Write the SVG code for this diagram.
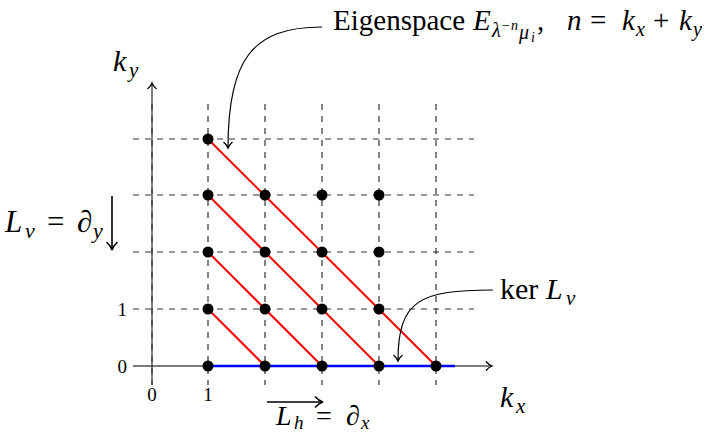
<svg xmlns="http://www.w3.org/2000/svg" width="708" height="435" viewBox="0 0 708 435">
<style>
.grid-h{stroke:#777;stroke-width:1.4;stroke-dasharray:6,6;fill:none}
.grid-v{stroke:#333;stroke-width:1.2;stroke-dasharray:6,6;fill:none}
.axis{stroke:#000;stroke-width:1;fill:none}
.red{stroke:#ff0000;stroke-width:2;fill:none}
.blue{stroke:#0000ff;stroke-width:2.4;fill:none}
.dot{fill:#000}
text,tspan{font-family:'Liberation Serif','Times New Roman','DejaVu Serif',serif}
.txt{fill:#000;font-style:normal}
.m{font-style:italic;fill:#000}
.curve{stroke:#000;stroke-width:1.2;fill:none}
.arr{stroke:#000;stroke-width:1.6;fill:none}
</style>
<defs>
<marker id="tip" markerWidth="12" markerHeight="12" refX="9" refY="6" orient="auto" markerUnits="userSpaceOnUse">
<path d="M3,1.5 Q6,5 9,6 Q6,7 3,10.5" fill="none" stroke="#000" stroke-width="1.3"/>
</marker>
<marker id="tipb" markerWidth="16" markerHeight="16" refX="12" refY="8" orient="auto" markerUnits="userSpaceOnUse">
<path d="M4,2.5 Q8,7 12,8 Q8,9 4,13.5" fill="none" stroke="#000" stroke-width="1.6"/>
</marker>
</defs>
<g id="grid">
<line class="grid-h" x1="133" y1="139" x2="474" y2="139"/>
<line class="grid-h" x1="133" y1="195" x2="474" y2="195"/>
<line class="grid-h" x1="133" y1="252" x2="474" y2="252"/>
<line class="grid-h" x1="133" y1="309" x2="474" y2="309"/>
<line class="grid-v" x1="208" y1="104" x2="208" y2="385"/>
<line class="grid-v" x1="265" y1="104" x2="265" y2="385"/>
<line class="grid-v" x1="322" y1="104" x2="322" y2="385"/>
<line class="grid-v" x1="379" y1="104" x2="379" y2="385"/>
<line class="grid-v" x1="436" y1="104" x2="436" y2="385"/>
</g>
<g id="axes">
<line class="axis" x1="133" y1="366" x2="492" y2="366" marker-end="url(#tip)"/>
<line class="axis" x1="152" y1="385" x2="152" y2="83" marker-end="url(#tip)"/>
<line class="grid-h" x1="133" y1="366" x2="474" y2="366"/>
<line class="grid-v" x1="152" y1="104" x2="152" y2="385"/>
</g>
<g id="connectors">
<line class="red" x1="208" y1="139" x2="436" y2="366"/>
<line class="red" x1="208" y1="195" x2="379" y2="366"/>
<line class="red" x1="208" y1="252" x2="322" y2="366"/>
<line class="red" x1="208" y1="309" x2="265" y2="366"/>
<line class="blue" x1="208" y1="366" x2="455" y2="366"/>
<path class="curve" d="M322,27 C252,27 228,60 228,148" marker-end="url(#tip)"/>
<path class="curve" d="M493,290 C420,290 398,300 398,361" marker-end="url(#tip)"/>
<line class="arr" x1="112" y1="196" x2="112" y2="250" marker-end="url(#tipb)"/>
<line class="arr" x1="267" y1="402" x2="323" y2="402" marker-end="url(#tipb)"/>
</g>
<g id="dots">
<circle class="dot" cx="208" cy="139" r="5.5"/>
<circle class="dot" cx="208" cy="195" r="5.5"/><circle class="dot" cx="265" cy="195" r="5.5"/><circle class="dot" cx="322" cy="195" r="5.5"/><circle class="dot" cx="379" cy="195" r="5.5"/>
<circle class="dot" cx="208" cy="252" r="5.5"/><circle class="dot" cx="265" cy="252" r="5.5"/><circle class="dot" cx="322" cy="252" r="5.5"/><circle class="dot" cx="379" cy="252" r="5.5"/>
<circle class="dot" cx="208" cy="309" r="5.5"/><circle class="dot" cx="265" cy="309" r="5.5"/><circle class="dot" cx="322" cy="309" r="5.5"/><circle class="dot" cx="379" cy="309" r="5.5"/>
<circle class="dot" cx="208" cy="366" r="5.5"/><circle class="dot" cx="265" cy="366" r="5.5"/><circle class="dot" cx="322" cy="366" r="5.5"/><circle class="dot" cx="379" cy="366" r="5.5"/><circle class="dot" cx="436" cy="366" r="5.5"/>
</g>
<g id="ticks">
<text class="txt" x="127" y="373" font-size="19" text-anchor="end">0</text>
<text class="txt" x="127" y="316" font-size="19" text-anchor="end">1</text>
<text class="txt" x="152" y="401" font-size="19" text-anchor="middle">0</text>
<text class="txt" x="208" y="401" font-size="19" text-anchor="middle">1</text>
</g>
<g id="labels">
<text class="m" x="113" y="71" font-size="30">k</text>
<text class="m" x="129" y="77" font-size="21">y</text>
<text class="m" x="500" y="407" font-size="30">k</text>
<text class="m" x="516" y="413" font-size="21">x</text>
<text class="m" x="5" y="232" font-size="31">L</text>
<text class="m" x="25" y="238" font-size="22">v</text>
<text class="txt" x="47" y="232" font-size="31">=</text>
<text class="txt" x="77" y="232" font-size="31">∂</text>
<text class="m" x="93" y="238" font-size="22">y</text>
<text class="m" x="276" y="425" font-size="28">L</text>
<text class="m" x="294" y="429" font-size="19">h</text>
<text class="txt" x="316" y="425" font-size="28">=</text>
<text class="txt" x="346" y="425" font-size="28">∂</text>
<text class="m" x="361" y="429" font-size="19">x</text>
<text class="txt" x="500" y="299" font-size="30">ker</text>
<text class="m" x="546" y="299" font-size="30">L</text>
<text class="m" x="566" y="305" font-size="21">v</text>
<text class="txt" x="333" y="30" font-size="29">Eigenspace</text>
<text class="m" x="473" y="30" font-size="29">E</text>
<text class="m" x="492" y="37" font-size="20">λ</text>
<text class="txt" x="502" y="30" font-size="14">−</text>
<text class="m" x="511" y="30" font-size="14">n</text>
<text class="m" x="519" y="39" font-size="20">μ</text>
<text class="m" x="531" y="42" font-size="14">i</text>
<text class="txt" x="537" y="30" font-size="29">,</text>
<text class="m" x="567" y="30" font-size="29">n</text>
<text class="txt" x="590" y="30" font-size="29">=</text>
<text class="m" x="622" y="30" font-size="29">k</text>
<text class="m" x="636" y="36" font-size="20">x</text>
<text class="txt" x="653" y="30" font-size="29">+</text>
<text class="m" x="679" y="30" font-size="29">k</text>
<text class="m" x="693" y="36" font-size="20">y</text>
</g>
</svg>
